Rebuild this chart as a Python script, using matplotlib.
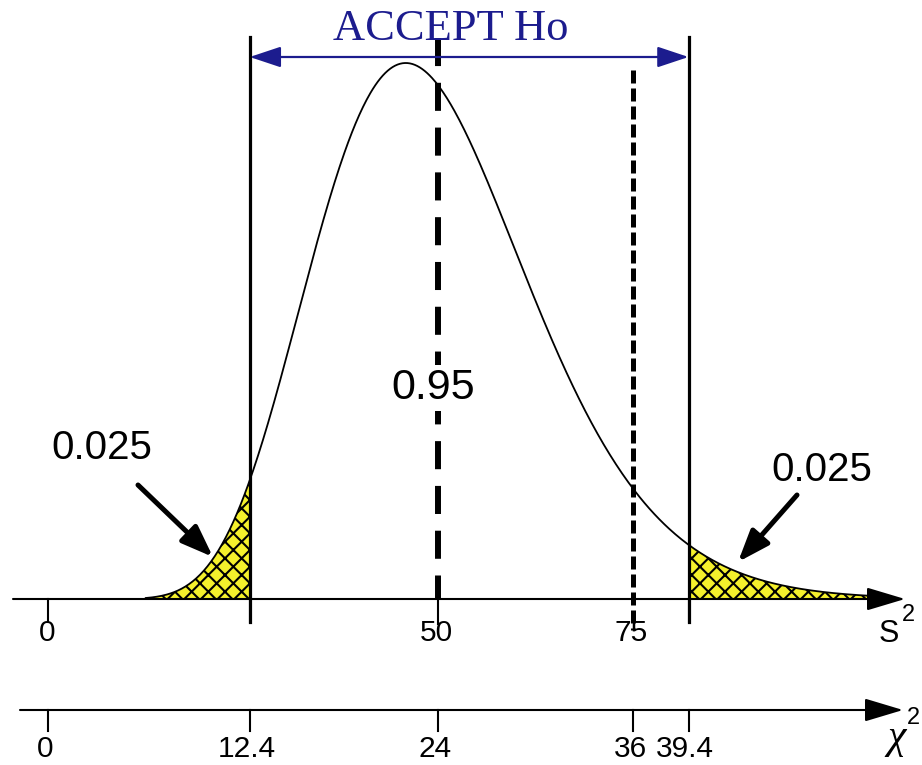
import math
import numpy as np
import matplotlib.pyplot as plt

# chi-square test for a variance: df = 24, sigma0^2 = 50
df = 24
sigma2_0 = 50
crit_lo, crit_hi = 12.4, 39.4
tail_area = "0.025"
accept_area = "0.95"
chi_ticks = [0, 12.4, 24, 36, 39.4]
chi_tick_labels = ["0", "12.4", "24", "36", "39.4"]
s2_ticks = [0, 50, 75]
s2_tick_labels = ["0", "50", "75"]
s2_mean, s2_obs = 50, 75

# layout (pixels of the 922x765 picture)
W, H = 922, 765
PX_PER_UNIT = 16.25
X0_PX = 48.25
S2_AXIS_PX = 599
CHI_AXIS_PX = 710
PEAK_PX = 536


def chi2_pdf(x, k):
    x = np.asarray(x, dtype=float)
    return np.exp((k / 2 - 1) * np.log(x) - x / 2 - (k / 2) * math.log(2) - math.lgamma(k / 2))


peak = float(chi2_pdf(df - 2, df))
scale = peak / PEAK_PX


def xd(px):
    return (px - X0_PX) / PX_PER_UNIT


def yd(py):
    return (S2_AXIS_PX - py) * scale


def s2_to_chi(s2):
    return s2 * df / sigma2_0


SANS = "Liberation Sans"
SERIF = "Liberation Serif"
NAVY = "#1c1c8e"
YELLOW = "#f4f02c"
plt.rcParams["hatch.linewidth"] = 1.5

fig = plt.figure(figsize=(W / 100, H / 100), dpi=100)
ax = fig.add_axes([0, 0, 1, 1])
ax.set_xlim(xd(0), xd(W))
ax.set_ylim(yd(H), yd(0))
ax.axis("off")

# density curve and shaded tails
x = np.linspace(6, 51.5, 600)
y = chi2_pdf(x, df)
ax.plot(x, y, color="black", lw=1.3, zorder=3)
xl = np.append(x[x < crit_lo], crit_lo)
xr = np.insert(x[x > crit_hi], 0, crit_hi)
for xs in (xl, xr):
    ax.fill_between(xs, 0, chi2_pdf(xs, df), facecolor=YELLOW, edgecolor="black",
                    hatch="xx", linewidth=0, zorder=2)

# critical value lines
for c in (crit_lo, crit_hi):
    ax.plot([c, c], [yd(37), yd(622)], color="black", lw=2.3, zorder=4)

# mean (50) and observed (75) lines
xm = s2_to_chi(s2_mean)
ax.plot([xm, xm], [yd(38), 0], color="black", lw=4.3, dashes=(4.7, 2.8), zorder=4)
ax.plot([xm, xm], [0, yd(624)], color="black", lw=1.5, zorder=4)
xo = s2_to_chi(s2_obs)
ax.plot([xo, xo], [yd(70), yd(630)], color="black", lw=3.6, dashes=(2.6, 1.0), zorder=4)

# accept region arrow
ax.annotate("", xy=(crit_hi, yd(57)), xytext=(crit_lo, yd(57)),
            arrowprops=dict(arrowstyle="<|-|>,head_length=1.2,head_width=0.4",
                            mutation_scale=16, color=NAVY, lw=1.6,
                            shrinkA=0, shrinkB=0), zorder=6)
ax.text(xd(451), yd(29), "ACCEPT Ho", family=SERIF, fontsize=32, color=NAVY,
        ha="center", va="center", zorder=5)

# area labels
ax.text(xm - 0.3, yd(388), accept_area, family=SANS, fontsize=31, ha="center",
        va="center", zorder=5,
        bbox=dict(facecolor="white", edgecolor="none", pad=2))
ax.text(xd(102), yd(448), tail_area, family=SANS, fontsize=29, ha="center", va="center")
ax.text(xd(822), yd(470), tail_area, family=SANS, fontsize=29, ha="center", va="center")
arrow = dict(arrowstyle="-|>,head_length=1.2,head_width=0.45", mutation_scale=16,
             color="black", lw=3.6, shrinkA=0, shrinkB=0)
ax.annotate("", xy=(xd(213), yd(557)), xytext=(xd(138), yd(485)), arrowprops=arrow)
ax.annotate("", xy=(xd(738), yd(562)), xytext=(xd(797), yd(495)), arrowprops=arrow)

# s^2 axis
axis_arrow = dict(arrowstyle="-|>,head_length=1.5,head_width=0.45", mutation_scale=16,
                  color="black", lw=1.5, shrinkA=0, shrinkB=0)
ax.annotate("", xy=(xd(905), 0), xytext=(xd(13), 0), arrowprops=axis_arrow)
for c in (0, crit_lo, crit_hi):
    ax.plot([c, c], [0, yd(622)], color="black", lw=1.5)
for v, lab in zip(s2_ticks, s2_tick_labels):
    ax.text(s2_to_chi(v) - 0.1, yd(633), lab, family=SANS, fontsize=21.5,
            ha="center", va="center")
ax.text(xd(889), yd(634), "S", family=SANS, fontsize=22, ha="center", va="center")
ax.text(xd(908), yd(615), "2", family=SANS, fontsize=17, ha="center", va="center")

# chi^2 axis
ax.annotate("", xy=(xd(903), yd(CHI_AXIS_PX)), xytext=(xd(20), yd(CHI_AXIS_PX)),
            arrowprops=axis_arrow)
for v, lab in zip(chi_ticks, chi_tick_labels):
    ax.plot([v, v], [yd(CHI_AXIS_PX), yd(731)], color="black", lw=1.5)
    ax.text(v - 0.2, yd(749), lab, family=SANS, fontsize=21.5, ha="center", va="center")
ax.text(xd(897), yd(738), "χ", family=SERIF, style="italic", fontsize=30,
        ha="center", va="center")
ax.text(xd(913), yd(718), "2", family=SANS, fontsize=17, ha="center", va="center")

fig.savefig("out.png", dpi=100)
